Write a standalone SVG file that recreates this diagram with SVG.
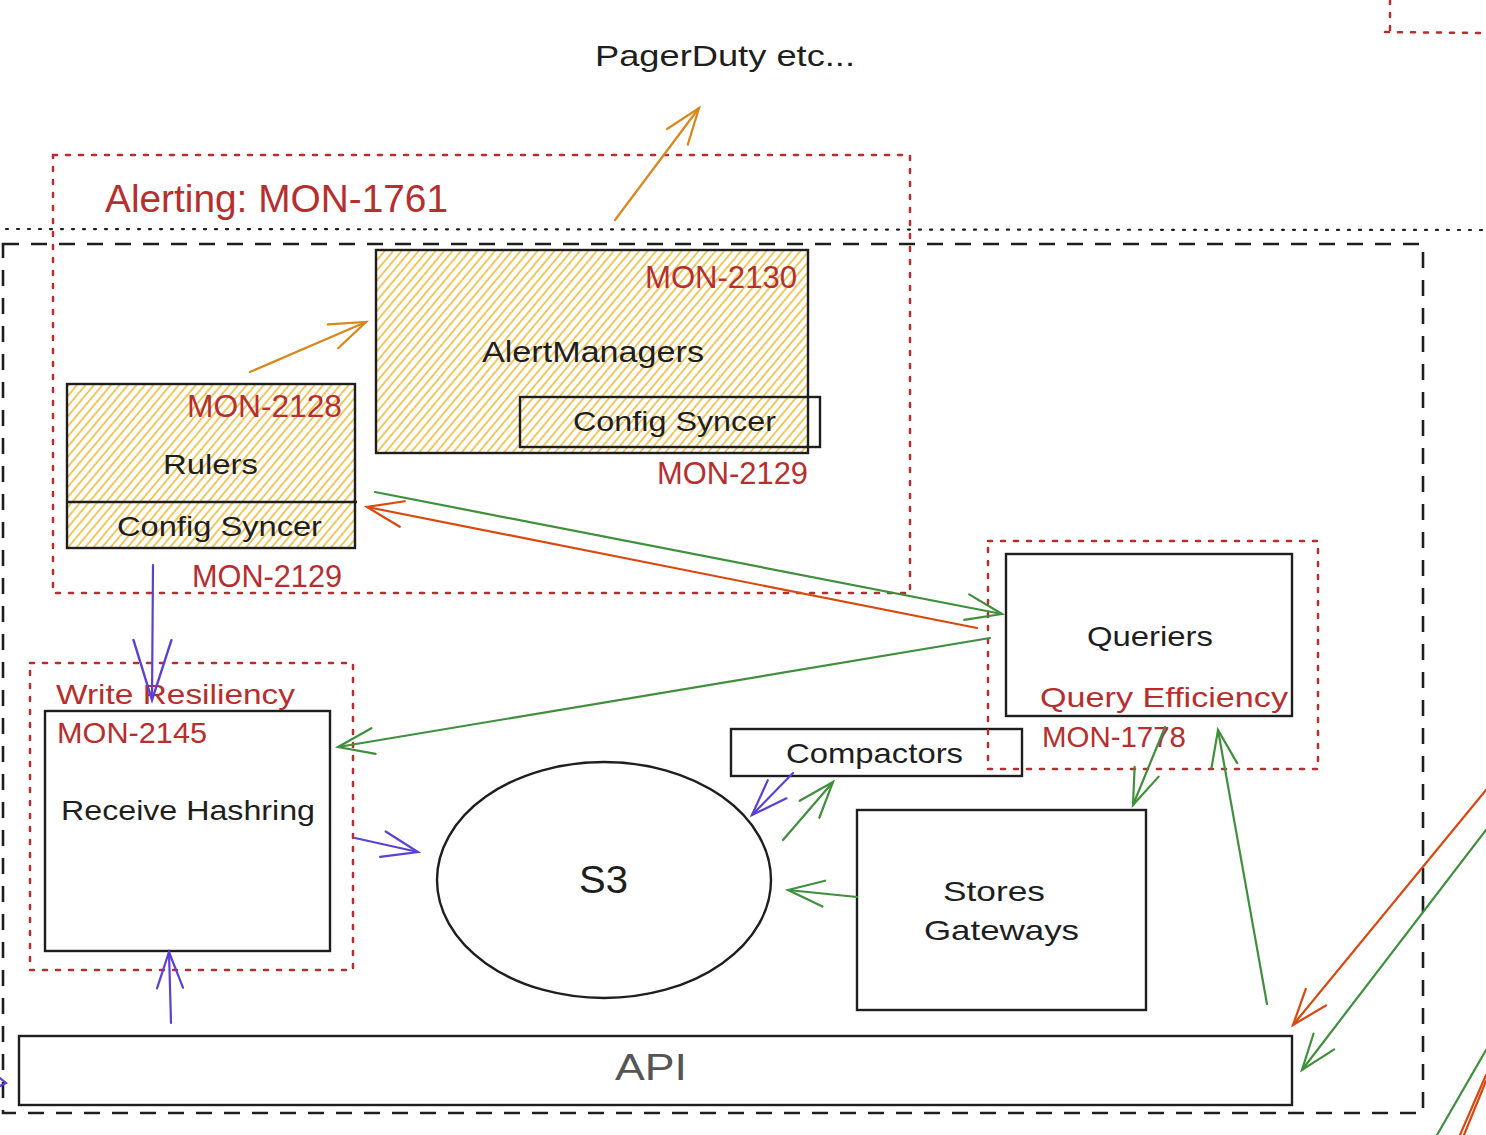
<svg xmlns="http://www.w3.org/2000/svg" width="1486" height="1135" viewBox="0 0 1486 1135">
<style>
  text { font-family: "Liberation Sans", "DejaVu Sans", sans-serif; }
  .blk { fill: #1e1e1e; }
  .red { fill: #b72e2e; }
  .api { fill: #555555; }
  .box { fill: none; stroke: #1e1e1e; stroke-width: 2.4; }
  .boxw { fill: #ffffff; stroke: #1e1e1e; stroke-width: 2.4; }
  .hatch { fill: url(#hatch); stroke: #1e1e1e; stroke-width: 2.4; }
  .reddot { fill: none; stroke: #b72e2e; stroke-width: 2.5; stroke-dasharray: 4 9; stroke-linecap: round; }
  .outer { fill: none; stroke: #1e1e1e; stroke-width: 2.6; stroke-dasharray: 16 12; }
  .dots { fill: none; stroke: #1e1e1e; stroke-width: 2.2; stroke-dasharray: 2 9; stroke-linecap: round; }
  .c { fill: none; stroke-width: 2.2; stroke-linecap: round; }
  .orange { stroke: #d9861a; }
  .orred { stroke: #d9480f; }
  .green { stroke: #3f8f3c; }
  .purple { stroke: #5b3fd6; }
</style>
<defs>
  <pattern id="hatch" patternUnits="userSpaceOnUse" width="6.5" height="6.5" patternTransform="rotate(40)">
    <rect width="6.5" height="6.5" fill="#fff"/>
    <line x1="1" y1="0" x2="1" y2="6.5" stroke="#efbc3c" stroke-width="1.6"/>
  </pattern>
  <marker id="hOrange" markerUnits="userSpaceOnUse" viewBox="-38 -18 42 36" refX="0" refY="0" markerWidth="42" markerHeight="36" orient="auto">
    <path d="M-36,-13 L0,0 L-36,13" fill="none" stroke="#d9861a" stroke-width="2.2" stroke-linecap="round"/>
  </marker>
  <marker id="hOrred" markerUnits="userSpaceOnUse" viewBox="-38 -18 42 36" refX="0" refY="0" markerWidth="42" markerHeight="36" orient="auto">
    <path d="M-36,-13 L0,0 L-36,13" fill="none" stroke="#d9480f" stroke-width="2.2" stroke-linecap="round"/>
  </marker>
  <marker id="hGreen" markerUnits="userSpaceOnUse" viewBox="-38 -18 42 36" refX="0" refY="0" markerWidth="42" markerHeight="36" orient="auto">
    <path d="M-36,-13 L0,0 L-36,13" fill="none" stroke="#3f8f3c" stroke-width="2.2" stroke-linecap="round"/>
  </marker>
  <marker id="hPurple" markerUnits="userSpaceOnUse" viewBox="-38 -18 42 36" refX="0" refY="0" markerWidth="42" markerHeight="36" orient="auto">
    <path d="M-36,-13 L0,0 L-36,13" fill="none" stroke="#5b3fd6" stroke-width="2.2" stroke-linecap="round"/>
  </marker>
  <marker id="hPurpleL" markerUnits="userSpaceOnUse" viewBox="-62 -22 66 44" refX="0" refY="0" markerWidth="66" markerHeight="44" orient="auto">
    <path d="M-60,-19 L0,0 L-60,19" fill="none" stroke="#5b3fd6" stroke-width="2.4" stroke-linecap="round"/>
  </marker>
</defs>

<rect width="1486" height="1135" fill="#ffffff"/>

<g id="frames">
  <line class="dots" x1="6" y1="229" x2="1486" y2="230"/>
  <rect class="outer" x="3" y="244" width="1420" height="869"/>
  <rect class="reddot" x="53" y="155" width="857" height="438"/>
  <path class="reddot" d="M1390,0 L1390,35 M1385,32 L1486,33"/>
</g>

<g id="pagerduty">
  <text class="blk" x="595" y="66" font-size="30" textLength="260" lengthAdjust="spacingAndGlyphs">PagerDuty etc...</text>
</g>

<g id="alerting-label">
  <text class="red" x="105" y="212" font-size="38" textLength="343" lengthAdjust="spacingAndGlyphs">Alerting: MON-1761</text>
</g>

<g id="alertmanagers">
  <rect class="hatch" x="376" y="250" width="432" height="203"/>
  <text class="red" x="645" y="288" font-size="31" textLength="152" lengthAdjust="spacingAndGlyphs">MON-2130</text>
  <text class="blk" x="482" y="362" font-size="30" textLength="222" lengthAdjust="spacingAndGlyphs">AlertManagers</text>
  <rect class="box" x="520" y="397" width="300" height="50"/>
  <text class="blk" x="573" y="431" font-size="28" textLength="203" lengthAdjust="spacingAndGlyphs">Config Syncer</text>
  <text class="red" x="657" y="484" font-size="31" textLength="151" lengthAdjust="spacingAndGlyphs">MON-2129</text>
</g>

<g id="rulers">
  <rect class="hatch" x="67" y="384" width="288" height="164"/>
  <line class="box" x1="66" y1="502" x2="357" y2="502"/>
  <text class="red" x="187" y="417" font-size="31" textLength="155" lengthAdjust="spacingAndGlyphs">MON-2128</text>
  <text class="blk" x="163" y="474" font-size="28" textLength="95" lengthAdjust="spacingAndGlyphs">Rulers</text>
  <text class="blk" x="117" y="536" font-size="28" textLength="205" lengthAdjust="spacingAndGlyphs">Config Syncer</text>
  <text class="red" x="192" y="587" font-size="31" textLength="150" lengthAdjust="spacingAndGlyphs">MON-2129</text>
</g>

<g id="receive-hashring">
  <rect class="reddot" x="30" y="663" width="323" height="307"/>
  <rect class="boxw" x="45" y="711" width="285" height="240"/>
  <text class="red" x="56" y="704" font-size="28" textLength="239" lengthAdjust="spacingAndGlyphs">Write Resiliency</text>
  <text class="red" x="57" y="743" font-size="30" textLength="150" lengthAdjust="spacingAndGlyphs">MON-2145</text>
  <text class="blk" x="61" y="820" font-size="28" textLength="254" lengthAdjust="spacingAndGlyphs">Receive Hashring</text>
</g>

<g id="s3">
  <ellipse class="box" cx="604" cy="880" rx="167" ry="118"/>
  <text class="blk" x="579" y="893" font-size="38" textLength="49" lengthAdjust="spacingAndGlyphs">S3</text>
</g>

<g id="compactors">
  <rect class="boxw" x="731" y="729" width="291" height="47"/>
  <text class="blk" x="786" y="763" font-size="28" textLength="177" lengthAdjust="spacingAndGlyphs">Compactors</text>
</g>

<g id="stores-gateways">
  <rect class="box" x="857" y="810" width="289" height="200"/>
  <text class="blk" x="943" y="901" font-size="28" textLength="102" lengthAdjust="spacingAndGlyphs">Stores</text>
  <text class="blk" x="924" y="940" font-size="28" textLength="155" lengthAdjust="spacingAndGlyphs">Gateways</text>
</g>

<g id="queriers">
  <rect class="reddot" x="988" y="541" width="330" height="228"/>
  <rect class="box" x="1006" y="554" width="286" height="162"/>
  <text class="blk" x="1087" y="646" font-size="28" textLength="126" lengthAdjust="spacingAndGlyphs">Queriers</text>
  <text class="red" x="1040" y="707" font-size="28" textLength="248" lengthAdjust="spacingAndGlyphs">Query Efficiency</text>
  <text class="red" x="1042" y="747" font-size="30" textLength="144" lengthAdjust="spacingAndGlyphs">MON-1778</text>
</g>

<g id="api">
  <rect class="box" x="19" y="1036" width="1273" height="69"/>
  <text class="api" x="615" y="1080" font-size="36" textLength="72" lengthAdjust="spacingAndGlyphs">API</text>
</g>

<g id="connectors">
  <line class="c orange" x1="615" y1="220" x2="699" y2="108" marker-end="url(#hOrange)"/>
  <line class="c orange" x1="250" y1="372" x2="366" y2="322" marker-end="url(#hOrange)"/>
  <line class="c purple" x1="153" y1="565" x2="152" y2="700" marker-end="url(#hPurpleL)"/>
  <line class="c purple" x1="171" y1="1023" x2="169" y2="952" marker-end="url(#hPurple)"/>
  <line class="c purple" x1="355" y1="838" x2="418" y2="852" marker-end="url(#hPurple)"/>
  <line class="c purple" x1="793" y1="773" x2="752" y2="815" marker-end="url(#hPurple)"/>
  <line class="c green" x1="783" y1="840" x2="833" y2="782" marker-end="url(#hGreen)"/>
  <line class="c green" x1="857" y1="897" x2="788" y2="890" marker-end="url(#hGreen)"/>
  <line class="c green" x1="1165" y1="727" x2="1133" y2="805" marker-end="url(#hGreen)"/>
  <line class="c green" x1="1267" y1="1004" x2="1218" y2="730" marker-end="url(#hGreen)"/>
  <line class="c green" x1="375" y1="492" x2="1002" y2="614" marker-end="url(#hGreen)"/>
  <line class="c orred" x1="977" y1="628" x2="367" y2="507" marker-end="url(#hOrred)"/>
  <line class="c green" x1="990" y1="638" x2="338" y2="747" marker-end="url(#hGreen)"/>
  <line class="c orred" x1="1486" y1="790" x2="1293" y2="1025" marker-end="url(#hOrred)"/>
  <line class="c green" x1="1486" y1="830" x2="1302" y2="1070" marker-end="url(#hGreen)"/>
  <line class="c green" x1="1486" y1="1050" x2="1437" y2="1135"/>
  <line class="c orred" x1="1486" y1="1075" x2="1460" y2="1135"/>
  <line class="c orred" x1="1486" y1="1081" x2="1464" y2="1135"/>
  <path class="c purple" d="M0,1078 L6,1083 L0,1086" stroke-width="3"/>
</g>
</svg>
